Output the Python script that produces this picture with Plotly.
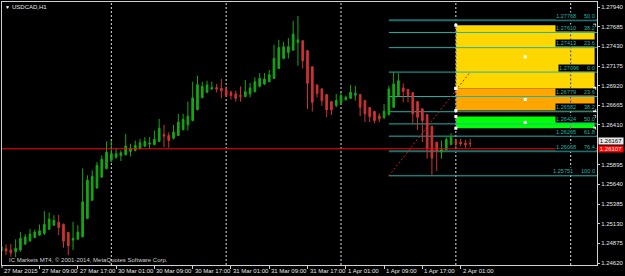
import plotly.graph_objects as go

# ---------------- data ----------------
opens = [1.24775, 1.24805, 1.24788, 1.24766, 1.24788, 1.24866, 1.24908, 1.24952, 1.24982, 1.25004,
         1.25059, 1.25111, 1.25150, 1.25120, 1.25017, 1.24917, 1.24930, 1.24960, 1.25198, 1.25434,
         1.25593, 1.25735, 1.25844, 1.25951, 1.25993, 1.26015, 1.26024, 1.26067, 1.26080, 1.26102,
         1.26136, 1.26161, 1.26158, 1.26196, 1.26287, 1.26274, 1.26239, 1.26274, 1.26351, 1.26412,
         1.26468, 1.26610, 1.26765, 1.26833, 1.26877, 1.26894, 1.26885, 1.26868, 1.26833, 1.26813,
         1.26791, 1.26778, 1.26813, 1.26842, 1.26911, 1.26942, 1.26972, 1.27014, 1.27143, 1.27273,
         1.27350, 1.27381, 1.27479, 1.27501, 1.27372, 1.27165, 1.26929, 1.26877, 1.26804, 1.26713,
         1.26661, 1.26696, 1.26739, 1.26756, 1.26795, 1.26804, 1.26726, 1.26636, 1.26584, 1.26528,
         1.26503, 1.26545, 1.26639, 1.26791, 1.26890, 1.26872, 1.26829, 1.26713, 1.26619, 1.26545,
         1.26394, 1.26187, 1.26058, 1.26089, 1.26158, 1.26196, 1.26187, 1.26174, 1.26174]
highs = [1.24853, 1.24862, 1.24866, 1.24926, 1.25024, 1.24995, 1.25059, 1.25055, 1.25120, 1.25292,
         1.25275, 1.25240, 1.25244, 1.25133, 1.25024, 1.25154, 1.25111, 1.25847, 1.25757, 1.25822,
         1.25929, 1.26015, 1.26196, 1.26209, 1.26110, 1.26080, 1.26296, 1.26167, 1.26209, 1.26231,
         1.26252, 1.26252, 1.26338, 1.26490, 1.26412, 1.26316, 1.26412, 1.26554, 1.26554, 1.26713,
         1.26972, 1.27049, 1.26972, 1.26984, 1.26972, 1.26942, 1.27006, 1.26911, 1.26855, 1.26855,
         1.26911, 1.26993, 1.26955, 1.27027, 1.27084, 1.27084, 1.27123, 1.27450, 1.27514, 1.27488,
         1.27536, 1.27760, 1.27824, 1.27514, 1.27385, 1.27170, 1.26935, 1.26885, 1.26810, 1.26718,
         1.26813, 1.26826, 1.26791, 1.26929, 1.26920, 1.26810, 1.26730, 1.26640, 1.26590, 1.26562,
         1.26683, 1.26920, 1.27096, 1.27080, 1.26950, 1.26876, 1.26833, 1.26717, 1.26623, 1.26549,
         1.26398, 1.26190, 1.26209, 1.26252, 1.26304, 1.26231, 1.26231, 1.26218, 1.26231]
lows = [1.24756, 1.24723, 1.24701, 1.24694, 1.24766, 1.24853, 1.24895, 1.24939, 1.24969, 1.24982,
        1.25046, 1.25098, 1.24982, 1.24818, 1.24723, 1.24788, 1.24917, 1.24952, 1.25189, 1.25425,
        1.25585, 1.25722, 1.25835, 1.25929, 1.25973, 1.25942, 1.26015, 1.26003, 1.26067, 1.26093,
        1.26123, 1.26110, 1.26145, 1.26187, 1.26123, 1.26115, 1.26222, 1.26265, 1.26338, 1.26338,
        1.26459, 1.26597, 1.26756, 1.26826, 1.26868, 1.26833, 1.26756, 1.26769, 1.26739, 1.26713,
        1.26713, 1.26769, 1.26769, 1.26833, 1.26898, 1.26929, 1.26962, 1.27006, 1.27136, 1.27265,
        1.27273, 1.27372, 1.27178, 1.27143, 1.26619, 1.26584, 1.26769, 1.26661, 1.26510, 1.26541,
        1.26639, 1.26683, 1.26726, 1.26748, 1.26726, 1.26523, 1.26446, 1.26446, 1.26433, 1.26446,
        1.26490, 1.26532, 1.26632, 1.26782, 1.26704, 1.26704, 1.26425, 1.26347, 1.26187, 1.25973,
        1.25751, 1.25813, 1.25973, 1.26080, 1.26145, 1.26115, 1.26132, 1.26115, 1.26123]
closes = [1.24831, 1.24775, 1.24753, 1.24810, 1.24939, 1.24956, 1.24995, 1.25021, 1.25037, 1.25120,
          1.25189, 1.25172, 1.25081, 1.24904, 1.24844, 1.24939, 1.25021, 1.25412, 1.25692, 1.25744,
          1.25886, 1.25964, 1.26058, 1.26037, 1.26037, 1.26050, 1.26136, 1.26110, 1.26145, 1.26180,
          1.26196, 1.26174, 1.26222, 1.26368, 1.26265, 1.26209, 1.26316, 1.26446, 1.26481, 1.26523,
          1.26761, 1.26933, 1.26911, 1.26929, 1.26894, 1.26877, 1.26855, 1.26791, 1.26791, 1.26756,
          1.26782, 1.26842, 1.26890, 1.26972, 1.27014, 1.27006, 1.27062, 1.27273, 1.27415, 1.27424,
          1.27424, 1.27588, 1.27514, 1.27243, 1.26950, 1.26704, 1.26820, 1.26726, 1.26606, 1.26606,
          1.26726, 1.26791, 1.26769, 1.26833, 1.26820, 1.26639, 1.26554, 1.26519, 1.26468, 1.26490,
          1.26588, 1.26877, 1.26942, 1.26984, 1.26846, 1.26791, 1.26554, 1.26510, 1.26468, 1.26102,
          1.25981, 1.26080, 1.26089, 1.26222, 1.26252, 1.26174, 1.26167, 1.26154, 1.26167]

x_tick_bars = [0, 8, 16, 24, 32, 40, 48, 56, 64, 72, 80, 88, 96]
x_tick_labels = ["27 Mar 2015", "27 Mar 09:00", "27 Mar 17:00", "30 Mar 01:00", "30 Mar 09:00",
                 "30 Mar 17:00", "31 Mar 01:00", "31 Mar 09:00", "31 Mar 17:00", "1 Apr 01:00",
                 "1 Apr 09:00", "1 Apr 17:00", "2 Apr 01:00"]
day_start_bars = [23, 47, 71, 95, 119]

y_tick_values = [1.24620, 1.24875, 1.25130, 1.25385, 1.25640, 1.25895,
                 1.26410, 1.26665, 1.26920, 1.27175, 1.27430, 1.27685, 1.27940]
y_tick_labels = ["1.24620", "1.24875", "1.25130", "1.25385", "1.25640", "1.25895",
                 "1.26410", "1.26665", "1.26920", "1.27175", "1.27430", "1.27685", "1.27940"]

fib_bars = [81, 98]
fib_anchor_prices = [1.25751, 1.27096]
fib_prices = [1.27768, 1.27610, 1.27413, 1.27096, 1.26779, 1.26582, 1.26424, 1.26265, 1.26068, 1.25751]
fib_pcts = ["50.0", "38.2", "23.6", "0.0", "23.6", "38.2", "50.0", "61.8", "76.4", "100.0"]

rect_bars = [95, 124]
rect_tops = [1.27704, 1.26885, 1.26519]
rect_bottoms = [1.26885, 1.26597, 1.26368]
rect_colors = ["#FFD700", "#FFA500", "#00FF00"]

hline_price = 1.26102
hline_label = "1.26107"
bid_label = "1.26167"

# ---------------- layout constants ----------------
W, H = 625, 276
PL, PR, PT, PB = 2, 599, 1, 265
X_RANGE = [0.15, 124.5]
Y_RANGE = [1.24594, 1.28005]
FRAME = "#d0d0d0"
TXT = "#e6e6e6"
FONT = "Liberation Sans, Arial, sans-serif"
BULL = "#14A814"
BEAR = "#CC3333"
FIB = "#20B2AA"


def pxx(px):
    return (px - PL) / (PR - PL)


def pxy(py):
    return (PB - py) / (PB - PT)


def bar_to_paper(b):
    return (b - X_RANGE[0]) / (X_RANGE[1] - X_RANGE[0])


bars = list(range(len(opens)))

fig = go.Figure()
fig.add_trace(go.Candlestick(
    x=bars, open=opens, high=highs, low=lows, close=closes,
    increasing=dict(line=dict(color=BULL, width=1), fillcolor=BULL),
    decreasing=dict(line=dict(color=BEAR, width=1), fillcolor=BEAR),
    whiskerwidth=0, hoverinfo="skip", showlegend=False,
))

shapes = []
# day separators
for b in day_start_bars:
    shapes.append(dict(type="line", xref="x", yref="paper", x0=b, x1=b, y0=0, y1=1,
                       line=dict(color="#e0e0e0", width=1, dash="2px,2px"), layer="below"))
# rectangles
for top, bot, col in zip(rect_tops, rect_bottoms, rect_colors):
    shapes.append(dict(type="rect", xref="x", yref="y", x0=rect_bars[0], x1=rect_bars[1],
                       y0=bot, y1=top, fillcolor=col, line=dict(width=0), layer="below"))
    for b in day_start_bars:
        if rect_bars[0] <= b <= rect_bars[1]:
            sep_col = "#FF00FF" if col == "#00FF00" else "#1E3CFF"
            shapes.append(dict(type="line", xref="x", yref="y", x0=b, x1=b, y0=bot, y1=top,
                               line=dict(color=sep_col, width=1, dash="2px,2px"), layer="below"))
# fib levels
for p, pct in zip(fib_prices, fib_pcts):
    dark = (pct == "50.0" and p > fib_anchor_prices[1]) or pct == "76.4"
    shapes.append(dict(type="line", xref="x", yref="y", x0=fib_bars[0], x1=X_RANGE[1], y0=p, y1=p,
                       line=dict(color="#1d6f6c" if dark else FIB, width=2 if dark else 1), layer="below"))
# fib trend line
shapes.append(dict(type="line", xref="x", yref="y", x0=fib_bars[0], x1=fib_bars[1],
                   y0=fib_anchor_prices[0], y1=fib_anchor_prices[1],
                   line=dict(color="#C0201A", width=1, dash="2px,2px"), layer="below"))
# red horizontal line
shapes.append(dict(type="line", xref="paper", yref="y", x0=0, x1=1, y0=hline_price, y1=hline_price,
                   line=dict(color="#FF0000", width=1.2), layer="above"))
# first x tick (bar 0 sits on the left frame)
shapes.append(dict(type="line", xref="paper", yref="paper", x0=0, x1=0, y0=0, y1=pxy(PB + 3),
                   line=dict(color=FRAME, width=1)))

# rectangle handle markers
hx, hy = [], []
for top, bot in zip(rect_tops, rect_bottoms):
    for xx in rect_bars:
        for yy in (top, bot):
            hx.append(xx)
            hy.append(yy)
    hx.append((rect_bars[0] + rect_bars[1]) / 2)
    hy.append((top + bot) / 2)
fig.add_trace(go.Scatter(x=hx, y=hy, mode="markers", hoverinfo="skip", showlegend=False,
                         marker=dict(symbol="square", size=3, color="white", line=dict(width=0))))

ann = []
for b, lab in zip(x_tick_bars, x_tick_labels):
    ann.append(dict(x=max(bar_to_paper(b), 0), xref="paper", y=0, yref="paper", yanchor="top",
                    xanchor="left", text=lab, showarrow=False,
                    font=dict(family=FONT, size=6, color=TXT), borderpad=0, yshift=-2, xshift=1))
for p, pct in zip(fib_prices, fib_pcts):
    ann.append(dict(x=1, xref="paper", y=p, yref="y", xanchor="right", yanchor="bottom",
                    text=f"{p:.5f}" + "\u00a0" * 5 + pct, showarrow=False, bgcolor="black",
                    font=dict(family=FONT, size=5.6, color=FIB), borderpad=0, xshift=-1, yshift=0.5))
# axis price boxes (bid label sits just above the horizontal-line label)
ann.append(dict(x=1, xref="paper", y=hline_price, yref="y", xanchor="left", yanchor="bottom",
                text=bid_label, showarrow=False, bgcolor="#e8e8e8", width=24,
                font=dict(family=FONT, size=6, color="black"), borderpad=0, xshift=1, yshift=4))
ann.append(dict(x=1, xref="paper", y=hline_price, yref="y", xanchor="left", yanchor="middle",
                text=hline_label, showarrow=False, bgcolor="#FF0000", width=24,
                font=dict(family=FONT, size=6, color="white"), borderpad=0, xshift=1))
# title and copyright
ann.append(dict(x=pxx(3), xref="paper", y=pxy(6), yref="paper", xanchor="left", yanchor="middle",
                text="\u25bc", showarrow=False, font=dict(family=FONT, size=5, color="white")))
ann.append(dict(x=pxx(10), xref="paper", y=pxy(6.5), yref="paper", xanchor="left", yanchor="middle",
                text="USDCAD,H1", showarrow=False, font=dict(family=FONT, size=6, color=TXT)))
ann.append(dict(x=pxx(7), xref="paper", y=pxy(259.5), yref="paper", xanchor="left", yanchor="middle",
                text="IC Markets MT4, \u00a9 2001-2014, MetaQuotes Software Corp.", showarrow=False,
                font=dict(family=FONT, size=6, color="#d0d0d0")))

fig.update_layout(
    width=W, height=H, margin=dict(l=PL, r=W - PR, t=PT, b=H - PB, pad=0),
    paper_bgcolor="black", plot_bgcolor="black", showlegend=False, boxgap=0.5,
    shapes=shapes, annotations=ann,
    xaxis=dict(range=X_RANGE, showgrid=False, zeroline=False, showline=True, mirror=True,
               linecolor=FRAME, linewidth=1, tickvals=x_tick_bars, ticks="outside", ticklen=3,
               tickcolor=FRAME, showticklabels=False, rangeslider=dict(visible=False), fixedrange=True),
    yaxis=dict(range=Y_RANGE, side="right", showgrid=False, zeroline=False, showline=True, mirror=True,
               linecolor=FRAME, linewidth=1, tickvals=y_tick_values, ticktext=y_tick_labels,
               ticks="outside", ticklen=2, tickcolor=FRAME,
               tickfont=dict(family=FONT, size=6, color=TXT), fixedrange=True),
)

fig.write_html("out.html")
